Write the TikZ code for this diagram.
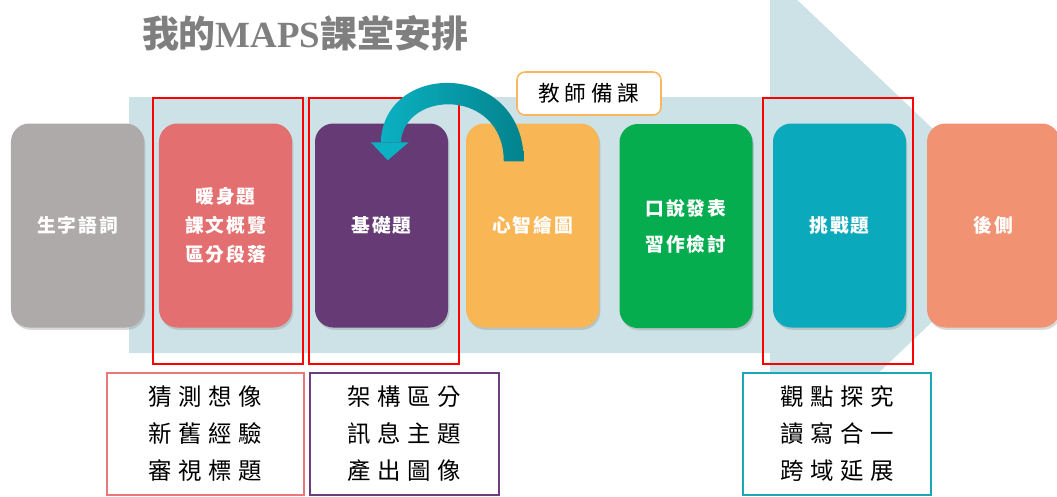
\documentclass[tikz,border=0pt]{standalone}
\usepackage{fontspec}
\newfontfamily\cjk{Noto Sans CJK TC}
\newfontfamily\cjkbox[LetterSpace=10]{Noto Sans CJK TC}
\newfontfamily\cjkbot[LetterSpace=28]{Noto Sans CJK TC}
\newfontfamily\cjkteach[LetterSpace=22]{Noto Sans CJK TC}
\newfontfamily\latserif{Liberation Serif}
\usetikzlibrary{shadows,calc}
\definecolor{shaftc}{HTML}{CDE2E7}
\definecolor{cgray}{HTML}{AEAAA9}
\definecolor{cpink}{HTML}{E46F70}
\definecolor{cpurple}{HTML}{653A75}
\definecolor{corange}{HTML}{F9B655}
\definecolor{cgreen}{HTML}{06AD4F}
\definecolor{ccyan}{HTML}{0AA9BB}
\definecolor{csalmon}{HTML}{F19272}
\definecolor{ctealL}{HTML}{0BB0C2}
\definecolor{ctealD}{HTML}{02838D}
\definecolor{ctitle}{HTML}{7F7F7F}
\definecolor{bpink}{HTML}{E8787A}
\definecolor{bpurple}{HTML}{6B3F7F}
\definecolor{bcyan}{HTML}{17A9BA}
\definecolor{torange}{HTML}{FBB55A}
\tikzset{
  card/.style={rounded corners=0.55cm, minimum width=3.99cm, minimum height=6.12cm,
    text=white, align=center, inner sep=0pt,
    font=\cjkbox\bfseries\fontsize{16}{24.75}\selectfont,
    drop shadow={opacity=0.3, shadow xshift=0.04cm, shadow yshift=-0.07cm}},
  redframe/.style={draw=red, line width=1.7pt, minimum width=4.5cm, minimum height=7.98cm, inner sep=0pt},
  notebox/.style={draw, line width=2.5pt, fill=white, minimum height=3.66cm, inner sep=0pt,
    align=center, text=black, font=\cjkbot\fontsize{20}{31.6}\selectfont},
  teachbox/.style={draw=torange, line width=1.3pt, fill=white, rounded corners=0.24cm,
    minimum width=4.32cm, minimum height=1.29cm, inner sep=0pt,
    font=\cjkteach\fontsize{18.5}{20}\selectfont},
  tealshade/.style={left color=ctealL, right color=ctealD},
}
\begin{document}
\begin{tikzpicture}[x=0.03cm,y=-0.03cm]
\useasboundingbox (0,0) rectangle (1057,496);
\clip (0,0) rectangle (1057,496);
% big background arrow
\fill[shaftc] (129,97) -- (770,97) -- (770,-26) -- (1034,225) -- (770,476) -- (770,353) -- (129,353) -- cycle;
% title
\node[text=ctitle, font=\cjk\bfseries\fontsize{31.5}{34}\selectfont, inner sep=0pt] (title) at (305,33)
  {我的{\latserif\bfseries MAPS}課堂安排};
% red frames
\node[redframe] (f1) at (228,231) {};
\node[redframe] (f2) at (384,231) {};
\node[redframe] (f3) at (838,231) {};
% cards
\node[card, fill=cgray] (gray) at (77.5,225.5) {生字語詞};
\node[card, fill=cpink] (pink) at (225.5,225.5) {暖身題\\課文概覽\\區分段落};
\node[card, fill=cpurple] (purple) at (381.5,225.5) {基礎題};
\node[card, fill=corange] (orange) at (532.5,225.5) {心智繪圖};
\node[card, fill=cgreen, font=\cjkbox\bfseries\fontsize{16}{30.7}\selectfont] (green) at (686,226) {口說發表\\習作檢討};
\node[card, fill=ccyan] (cyan) at (839.5,225.5) {挑戰題};
\node[card, fill=csalmon] (salmon) at (993.5,225.5) {後側};
% bottom boxes
\node[notebox, draw=bpink, minimum width=5.91cm] (n1) at (205.5,434) {猜測想像\\新舊經驗\\審視標題};
\node[notebox, draw=bpurple, minimum width=5.67cm] (n2) at (404.5,434) {架構區分\\訊息主題\\產出圖像};
\node[notebox, draw=bcyan, minimum width=5.64cm] (n3) at (837,434) {觀點探究\\讀寫合一\\跨域延展};
% teacher box
\node[teachbox] (teach) at (589,93.5) {教師備課};
% curved arrow from orange card to purple card (shaded band)
\coordinate (cs) at ($(orange.north west)+(48,38)$);
\coordinate (ce) at ($(purple.north west)+(76,19)$);
\shade[tealshade]
  ($(cs)+(10,0)$) .. controls ($(cs)+(10,-100)$) and ($(ce)+(-7,-83)$) .. ($(ce)+(-10,0)$)
  -- ($(ce)+(10,0)$) .. controls ($(ce)+(14,-53)$) and ($(cs)+(-10,-73)$) .. ($(cs)+(-10,0)$) -- cycle;
\fill[ctealL] ($(ce)+(-20,0)$) -- ($(ce)+(18,0)$) -- ($(ce)+(-3,18)$) -- cycle;
\end{tikzpicture}
\end{document}
